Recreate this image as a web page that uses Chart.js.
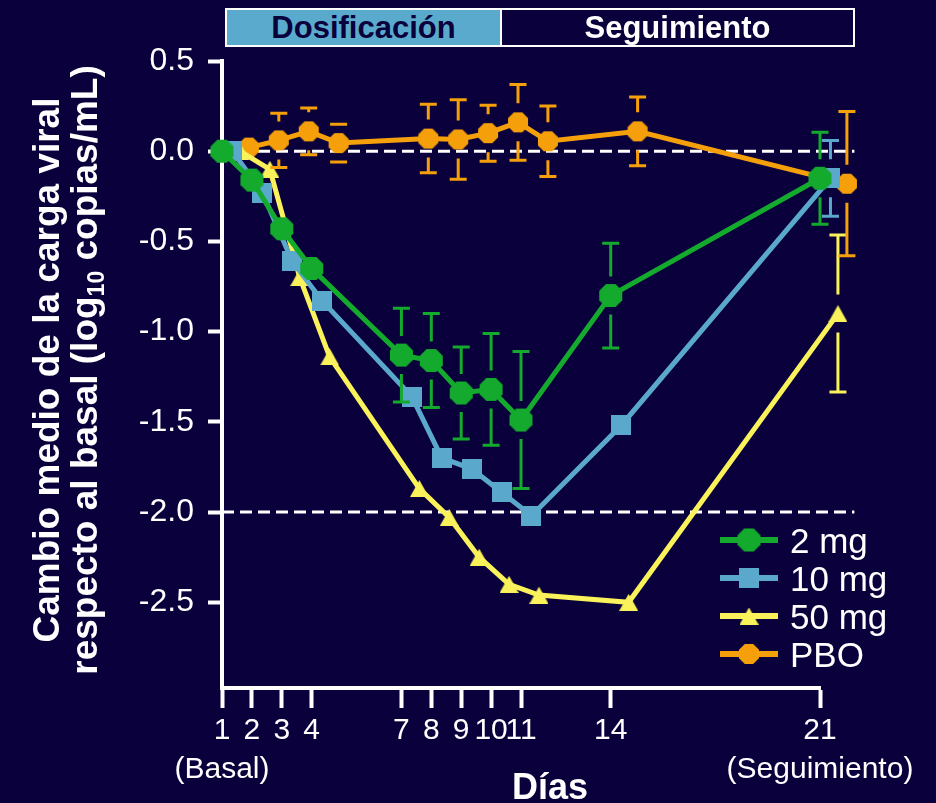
<!DOCTYPE html>
<html lang="es">
<head>
<meta charset="UTF-8">
<title>Cambio medio de la carga viral respecto al basal</title>
<script src="https://cdn.jsdelivr.net/npm/chart.js@4"></script>
<style>
  body { margin: 0; background: #0a003c; font-family: "Liberation Sans", Arial, sans-serif; }
  .wrap { position: relative; width: 936px; height: 803px; }
  canvas { display: block; }
  .phase { position: absolute; top: 8px; height: 39px; box-sizing: border-box; border: 2px solid #fff;
           font-weight: bold; font-size: 31px; line-height: 35px; text-align: center; }
  #dosing { left: 225px; width: 277px; background: #5aaacd; color: #0a003c; }
  #follow { left: 500px; width: 355px; color: #fff; }
</style>
</head>
<body>
<div class="wrap">
  <canvas id="chart" width="936" height="803"></canvas>
  <div class="phase" id="dosing">Dosificación</div>
  <div class="phase" id="follow">Seguimiento</div>
</div>

<script>
  // days of measurement and mean change from baseline (log10 copies/mL)
  const days = [1, 2, 3, 4, 7, 8, 9, 10, 11, 14, 21];
  const dayNotes = { 1: '(Basal)', 21: '(Seguimiento)' };

  const dose2 = [0.00, -0.16, -0.43, -0.65, -1.13, -1.16, -1.34, -1.32, -1.49, -0.80, -0.15];
  const dose2Err = [null, null, null, null, 0.26, 0.26, 0.255, 0.31, 0.38, 0.29, 0.255];

  const dose10 = [0.00, -0.23, -0.61, -0.83, -1.36, -1.70, -1.76, -1.89, -2.02, -1.52, -0.15];
  const dose10Err = [null, null, null, null, null, null, null, null, null, null, 0.21];

  const dose50 = [0.00, -0.10, -0.70, -1.14, -1.87, -2.03, -2.25, -2.40, -2.46, -2.50, -0.90];
  const dose50Err = [null, null, null, null, null, null, null, null, null, null, 0.435];

  const pbo = [0.02, 0.06, 0.11, 0.045, 0.07, 0.065, 0.10, 0.16, 0.055, 0.11, -0.18];
  const pboErr = [null, 0.15, 0.13, 0.105, 0.19, 0.22, 0.155, 0.21, 0.195, 0.19, 0.40];

  const yTicks = [0.5, 0.0, -0.5, -1.0, -1.5, -2.0, -2.5];
  const refLines = [0, -2];

  const FONT = '"Liberation Sans", Arial, Helvetica, sans-serif';
  const BG = '#0a003c';
  Chart.defaults.font.family = FONT;
  Chart.defaults.color = '#fff';

  function octagon(color, d) {
    const c = document.createElement('canvas');
    const r = d / 2 / Math.cos(Math.PI / 8);
    c.width = c.height = Math.ceil(r * 2);
    const g = c.getContext('2d');
    g.fillStyle = color;
    g.beginPath();
    for (let k = 0; k < 8; k++) {
      const a = Math.PI / 8 + k * Math.PI / 4;
      g.lineTo(c.width / 2 + r * Math.cos(a), c.height / 2 + r * Math.sin(a));
    }
    g.closePath();
    g.fill();
    return c;
  }

  function square(color, s) {
    const c = document.createElement('canvas');
    c.width = c.height = s;
    const g = c.getContext('2d');
    g.fillStyle = color;
    g.fillRect(0, 0, s, s);
    return c;
  }

  function triangle(color, w, h) {
    const c = document.createElement('canvas');
    c.width = w; c.height = h;
    const g = c.getContext('2d');
    g.fillStyle = color;
    g.beginPath();
    g.moveTo(w / 2, 0);
    g.lineTo(w, h);
    g.lineTo(0, h);
    g.closePath();
    g.fill();
    return c;
  }

  // shift = small horizontal dodge so the groups don't sit on top of each other
  const series = [
    { label: '2 mg',  values: dose2,  err: dose2Err,  color: '#14aa2d', marker: octagon('#14aa2d', 23), shift: 0 },
    { label: '10 mg', values: dose10, err: dose10Err, color: '#5aa8cc', marker: square('#5aa8cc', 20), shift: 0.35 },
    { label: '50 mg', values: dose50, err: dose50Err, color: '#faf25a', marker: triangle('#faf25a', 19, 17), shift: 0.6 },
    { label: 'PBO',   values: pbo,    err: pboErr,    color: '#f5a00a', marker: octagon('#f5a00a', 20), shift: 0.9 }
  ];

  const background = {
    id: 'background',
    beforeDraw(chart) {
      const ctx = chart.ctx;
      ctx.save();
      ctx.fillStyle = BG;
      ctx.fillRect(0, 0, chart.width, chart.height);
      ctx.restore();
    }
  };

  const dashedLines = {
    id: 'dashedLines',
    beforeDatasetsDraw(chart) {
      const { ctx, scales: { x, y } } = chart;
      ctx.save();
      ctx.strokeStyle = '#fff';
      ctx.lineWidth = 3;
      ctx.setLineDash([12, 6]);
      refLines.forEach(v => {
        const py = y.getPixelForValue(v);
        ctx.beginPath();
        ctx.moveTo(x.getPixelForValue(1), py);
        ctx.lineTo(x.getPixelForValue(22.15), py);
        ctx.stroke();
      });
      ctx.restore();
    }
  };

  const errorBars = {
    id: 'errorBars',
    afterDatasetsDraw(chart) {
      const ctx = chart.ctx, y = chart.scales.y;
      const gap = 19, cap = 8.5;
      ctx.save();
      ctx.lineWidth = 3;
      series.forEach((s, i) => {
        ctx.strokeStyle = s.color;
        chart.getDatasetMeta(i).data.forEach((pt, j) => {
          const e = s.err[j];
          if (e == null) return;
          const top = y.getPixelForValue(s.values[j] + e);
          const bot = y.getPixelForValue(s.values[j] - e);
          ctx.beginPath();
          ctx.moveTo(pt.x - cap, top); ctx.lineTo(pt.x + cap, top);
          ctx.moveTo(pt.x - cap, bot); ctx.lineTo(pt.x + cap, bot);
          if (pt.y - top > gap) { ctx.moveTo(pt.x, top); ctx.lineTo(pt.x, pt.y - gap); }
          if (bot - pt.y > gap) { ctx.moveTo(pt.x, pt.y + gap); ctx.lineTo(pt.x, bot); }
          ctx.stroke();
        });
      });
      ctx.restore();
    }
  };

  const texts = {
    id: 'texts',
    afterDraw(chart) {
      const ctx = chart.ctx;
      ctx.save();
      ctx.fillStyle = '#fff';

      // y axis title, two rotated lines, "10" as subscript
      const big = 'bold 37px ' + FONT, small = 'bold 23px ' + FONT;
      const lines = [
        { x: 59, parts: [{ t: 'Cambio medio de la carga viral' }] },
        { x: 97, parts: [{ t: 'respecto al basal (log' }, { t: '10', sub: true }, { t: ' copias/mL)' }] }
      ];
      lines.forEach(line => {
        ctx.save();
        ctx.translate(line.x, 370);
        ctx.rotate(-Math.PI / 2);
        ctx.textAlign = 'left';
        ctx.textBaseline = 'alphabetic';
        let total = 0;
        line.parts.forEach(p => { ctx.font = p.sub ? small : big; p.w = ctx.measureText(p.t).width; total += p.w; });
        let px = -total / 2;
        line.parts.forEach(p => {
          ctx.font = p.sub ? small : big;
          ctx.fillText(p.t, px, p.sub ? 7 : 0);
          px += p.w;
        });
        ctx.restore();
      });

      // x axis title
      ctx.font = 'bold 36px ' + FONT;
      ctx.textAlign = 'center';
      ctx.textBaseline = 'alphabetic';
      ctx.fillText('Días', 550, 799);

      // legend
      ctx.textAlign = 'left';
      ctx.font = '35px ' + FONT;
      series.forEach((s, i) => {
        const ly = 540 + i * 38;
        ctx.strokeStyle = s.color;
        ctx.lineWidth = 6;
        ctx.beginPath();
        ctx.moveTo(720, ly);
        ctx.lineTo(778, ly);
        ctx.stroke();
        ctx.drawImage(s.marker, 749 - s.marker.width / 2, ly - s.marker.height / 2);
        ctx.fillText(s.label, 790, ly + 13);
      });
      ctx.restore();
    }
  };

  new Chart(document.getElementById('chart'), {
    type: 'line',
    data: {
      datasets: series.map(s => ({
        label: s.label,
        data: days.map((d, i) => ({ x: d + s.shift, y: s.values[i] })),
        borderColor: s.color,
        backgroundColor: s.color,
        borderWidth: 5,
        pointStyle: s.marker,
        pointRadius: 40,
        pointHoverRadius: 40,
        tension: 0,
        clip: false
      }))
    },
    options: {
      responsive: false,
      animation: false,
      events: [],
      layout: { padding: { left: 0, top: 61, right: 116, bottom: 0 } },
      scales: {
        x: {
          type: 'linear',
          min: 1,
          max: 21,
          afterBuildTicks: s => { s.ticks = days.map(v => ({ value: v })); },
          afterFit: s => { s.height = 115; },
          ticks: {
            autoSkip: false,
            maxRotation: 0,
            padding: 3,
            color: '#fff',
            font: { size: 30, lineHeight: 1.3 },
            callback: v => dayNotes[v] ? [String(v), dayNotes[v]] : String(v)
          },
          grid: { drawOnChartArea: false, tickLength: 20, tickWidth: 4, tickColor: '#fff' },
          border: { color: '#fff', width: 4 }
        },
        y: {
          min: -2.975,
          max: 0.5,
          z: 1,
          afterBuildTicks: s => { s.ticks = yTicks.map(v => ({ value: v })); },
          afterFit: s => { s.width = 222; },
          ticks: {
            padding: 14,
            color: '#fff',
            font: { size: 32 },
            callback: v => v.toFixed(1)
          },
          grid: { drawOnChartArea: false, tickLength: 14, tickWidth: 4, tickColor: '#fff' },
          border: { color: '#fff', width: 4 }
        }
      },
      plugins: {
        legend: { display: false },
        tooltip: { enabled: false }
      }
    },
    plugins: [background, dashedLines, errorBars, texts]
  });
</script>
</body>
</html>
